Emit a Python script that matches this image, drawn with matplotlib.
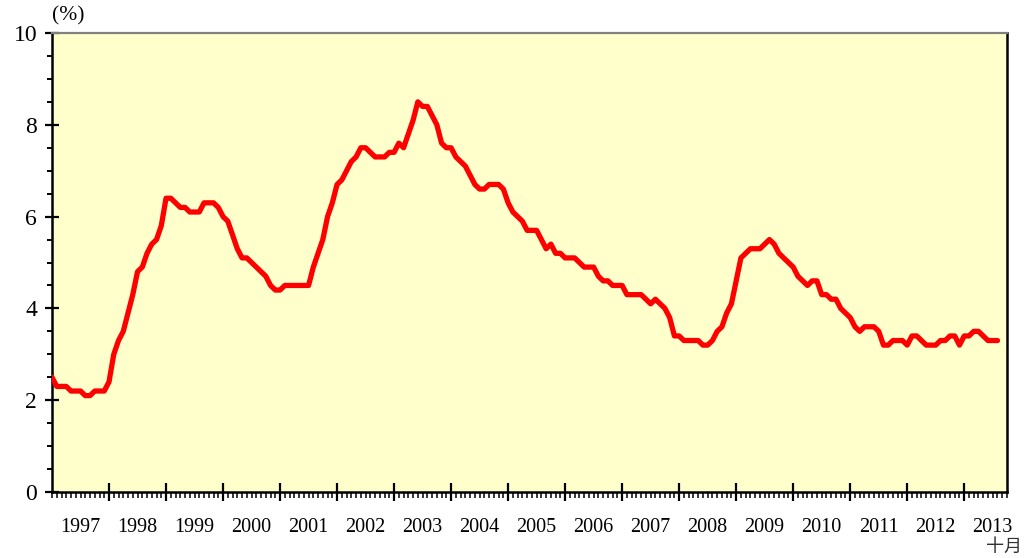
import numpy as np
import matplotlib
matplotlib.use('Agg')
import matplotlib.pyplot as plt
from matplotlib.ticker import MultipleLocator
import matplotlib.transforms as mtransforms

# Datos mensuales (%), enero 1997 en adelante
y1997 = [2.5, 2.3, 2.3, 2.3, 2.2, 2.2, 2.2, 2.1, 2.1, 2.2, 2.2, 2.2]
y1998 = [2.4, 3.0, 3.3, 3.5, 3.9, 4.3, 4.8, 4.9, 5.2, 5.4, 5.5, 5.8]
y1999 = [6.4, 6.4, 6.3, 6.2, 6.2, 6.1, 6.1, 6.1, 6.3, 6.3, 6.3, 6.2]
y2000 = [6.0, 5.9, 5.6, 5.3, 5.1, 5.1, 5.0, 4.9, 4.8, 4.7, 4.5, 4.4]
y2001 = [4.4, 4.5, 4.5, 4.5, 4.5, 4.5, 4.5, 4.9, 5.2, 5.5, 6.0, 6.3]
y2002 = [6.7, 6.8, 7.0, 7.2, 7.3, 7.5, 7.5, 7.4, 7.3, 7.3, 7.3, 7.4]
y2003 = [7.4, 7.6, 7.5, 7.8, 8.1, 8.5, 8.4, 8.4, 8.2, 8.0, 7.6, 7.5]
y2004 = [7.5, 7.3, 7.2, 7.1, 6.9, 6.7, 6.6, 6.6, 6.7, 6.7, 6.7, 6.6]
y2005 = [6.3, 6.1, 6.0, 5.9, 5.7, 5.7, 5.7, 5.5, 5.3, 5.4, 5.2, 5.2]
y2006 = [5.1, 5.1, 5.1, 5.0, 4.9, 4.9, 4.9, 4.7, 4.6, 4.6, 4.5, 4.5]
y2007 = [4.5, 4.3, 4.3, 4.3, 4.3, 4.2, 4.1, 4.2, 4.1, 4.0, 3.8, 3.4]
y2008 = [3.4, 3.3, 3.3, 3.3, 3.3, 3.2, 3.2, 3.3, 3.5, 3.6, 3.9, 4.1]
y2009 = [4.6, 5.1, 5.2, 5.3, 5.3, 5.3, 5.4, 5.5, 5.4, 5.2, 5.1, 5.0]
y2010 = [4.9, 4.7, 4.6, 4.5, 4.6, 4.6, 4.3, 4.3, 4.2, 4.2, 4.0, 3.9]
y2011 = [3.8, 3.6, 3.5, 3.6, 3.6, 3.6, 3.5, 3.2, 3.2, 3.3, 3.3, 3.3]
y2012 = [3.2, 3.4, 3.4, 3.3, 3.2, 3.2, 3.2, 3.3, 3.3, 3.4, 3.4, 3.2]
y2013 = [3.4, 3.4, 3.5, 3.5, 3.4, 3.3, 3.3, 3.3]

years = list(range(1997, 2014))
year_labels = [str(y) for y in years]

rate = np.array(y1997 + y1998 + y1999 + y2000 + y2001 + y2002 + y2003 + y2004 +
                y2005 + y2006 + y2007 + y2008 + y2009 + y2010 + y2011 + y2012 + y2013)
months = np.arange(len(rate))

fig = plt.figure(figsize=(10.27, 5.58), dpi=100)
ax = fig.add_axes([52/1027, 1 - 492/558, 955/1027, 459/558])
ax.set_facecolor('#FFFFCC')

ax.plot(months, rate, color='#FF0000', lw=3.8, solid_joinstyle='round',
        solid_capstyle='round', zorder=3)

ax.set_xlim(0, 201)
ax.set_ylim(0, 10)

# eje y
ax.yaxis.set_major_locator(MultipleLocator(2))
ax.yaxis.set_minor_locator(MultipleLocator(0.5))
ax.tick_params(axis='y', which='major', direction='inout', length=9.5, width=1.6,
               labelsize=17, pad=6)
ax.tick_params(axis='y', which='minor', direction='out', length=3.5, width=1.4)

# eje x: años y meses
ax.set_xticks([12 * i for i in range(1, len(years))])
ax.xaxis.set_minor_locator(MultipleLocator(1))
ax.set_xticklabels([])
ax.tick_params(axis='x', which='major', direction='inout', length=13, width=1.6)
ax.tick_params(axis='x', which='minor', direction='out', length=4.2, width=1.1)

trans = mtransforms.blended_transform_factory(ax.transData, ax.transAxes)
for i, lab in enumerate(year_labels):
    ax.text(12 * i + 6, -0.077, lab, transform=trans, ha='center', va='center',
            fontsize=14.5, family='Liberation Serif')

for lab in ax.get_yticklabels():
    lab.set_family('Liberation Serif')

for s in ['left', 'bottom', 'right']:
    ax.spines[s].set_color('black')
    ax.spines[s].set_linewidth(1.8)
ax.spines['top'].set_color('#808080')
ax.spines['top'].set_linewidth(1.6)

fig.text(52/1027, 1 - 16/558, '(%)', ha='left', va='center', fontsize=15.5,
         family='Liberation Serif')
fig.text(1004/1027, 1 - 547/558, '十月', ha='center', va='center', fontsize=13,
         family=['Noto Sans CJK TC', 'DejaVu Sans'], color='#333333')

fig.savefig('out.png', dpi=100)
